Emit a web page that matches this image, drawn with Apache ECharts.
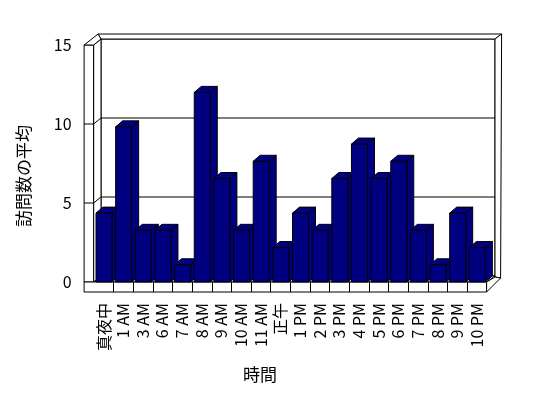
<!DOCTYPE html>
<html>
<head>
<meta charset="utf-8">
<script src="https://cdn.jsdelivr.net/npm/echarts@6/dist/echarts.min.js"></script>
<style>html,body{margin:0;padding:0;background:#fff;}#c{width:548px;height:398px;}</style>
</head>
<body>
<div id="c"></div>
<script>
const categories = ['真夜中','1 AM','3 AM','6 AM','7 AM','8 AM','9 AM','10 AM','11 AM','正午','1 PM','2 PM','3 PM','4 PM','5 PM','6 PM','7 PM','8 PM','9 PM','10 PM'];
const visits = [4.36,9.82,3.27,3.27,1.09,12,6.55,3.27,7.64,2.18,4.36,3.27,6.55,8.73,6.55,7.64,3.27,1.09,4.36,2.18];
const yTicks = [0,5,10,15];
const gridValues = [5,10];
const xTitle = '時間';
const yTitle = '訪問数の平均';

const FONT = '"Noto Sans CJK JP", "Liberation Sans", sans-serif';
const chart = echarts.init(document.getElementById('c'), null, {renderer:'canvas'});
const line = {stroke:'#000', lineWidth:1, fill:'#fff'};

function boxRender(params, api) {
  const cs = params.coordSys;
  const L = cs.x, R = cs.x + cs.width, T = cs.y, B = cs.y + cs.height;
  const SL = L - 9.5, BL = L + 7.4, BR = R + 8.4, BT = T - 6, BB = B - 6;
  const OT = T - 11, OR = R + 15;
  const bw = cs.width / categories.length;
  const ch = [];
  const poly = (pts, style) => ch.push({type:'polygon', shape:{points:pts}, style:Object.assign({}, line, style||{})});
  // back wall
  poly([[BL,BT],[BR,BT],[BR,BB],[BL,BB]]);
  poly([[SL+14,OT],[OR,OT],[BR,BT],[BL,BT]]);
  poly([[BR,BT],[OR,OT],[R+14,B-4],[BR,BB+1]]);
  // side wall
  poly([[L,T],[BL,BT],[BL,BB],[L,B]]);
  poly([[SL,T],[L,T],[L,B],[SL,B]]);
  poly([[SL,T],[L,T],[BL,BT],[SL+14,OT]]);
  // floor
  poly([[L,B],[BL,BB],[BR,BB],[R,B]]);
  poly([[SL,B],[R,B],[R,B+10],[SL,B+10]]);
  poly([[R,B],[BR,BB+1],[R+14,B-4],[R,B+10]]);
  // gridlines
  gridValues.forEach(v => {
    const yf = api.coord([0, v])[1];
    ch.push({type:'polyline', shape:{points:[[SL,yf],[L,yf],[BL,yf-6],[BR,yf-6]]}, style:{stroke:'#000', lineWidth:1, fill:null}});
  });
  // floor ticks
  for (let i = 1; i < categories.length; i++) {
    const x = Math.round(L + i*bw) + 0.5;
    ch.push({type:'line', shape:{x1:x, y1:B, x2:x, y2:B+10}, style:{stroke:'#000', lineWidth:1}});
  }
  return {type:'group', children:ch};
}

function barRender(params, api) {
  const idx = api.value(0);
  const v = api.value(1);
  const top = api.coord([idx, v]);
  const base = api.coord([idx, 0]);
  const bw = api.size([1, 0])[0];
  const DX = 7, DY = 6, W = 16;
  const x0 = top[0] - bw/2 + 2.4;
  const yt = top[1], yb = base[1];
  const st = {fill:'#000080', stroke:'#000', lineWidth:1};
  return {type:'group', children:[
    {type:'polygon', shape:{points:[[x0+W,yt],[x0+W+DX,yt-DY],[x0+W+DX,yb-DY],[x0+W,yb]]}, style:st},
    {type:'polygon', shape:{points:[[x0,yt],[x0+DX,yt-DY],[x0+W+DX,yt-DY],[x0+W,yt]]}, style:st},
    {type:'rect', shape:{x:x0, y:yt, width:W, height:yb-yt}, style:st}
  ]};
}

chart.setOption({
  animation:false,
  backgroundColor:'#fff',
  grid:{left:93.6, right:61.4, top:45, bottom:116},
  xAxis:{type:'category', data:categories,
    axisLine:{show:false}, axisTick:{show:false}, splitLine:{show:false},
    axisLabel:{interval:0, rotate:90, margin:21, fontSize:16, color:'#000', fontFamily:FONT}},
  yAxis:{type:'value', min:yTicks[0], max:yTicks[yTicks.length-1], interval:5,
    axisLine:{show:false}, axisTick:{show:false}, splitLine:{show:false},
    axisLabel:{margin:22, fontSize:16, color:'#000', fontFamily:FONT, padding:[8,0,0,0]}},
  graphic:[
    {type:'text', x:260, y:375, style:{text:xTitle, fontSize:17, fontFamily:FONT, fill:'#000', align:'center', verticalAlign:'middle'}},
    {type:'text', x:24, y:176, rotation:Math.PI/2, style:{text:yTitle, fontSize:17, fontFamily:FONT, fill:'#000', align:'center', verticalAlign:'middle'}}
  ],
  series:[
    {type:'custom', z:1, renderItem:boxRender, data:[[0,0]], silent:true},
    {type:'custom', z:2, renderItem:barRender, data:visits.map((v,i)=>[i,v]), encode:{x:0,y:1}}
  ]
});
</script>
</body>
</html>
